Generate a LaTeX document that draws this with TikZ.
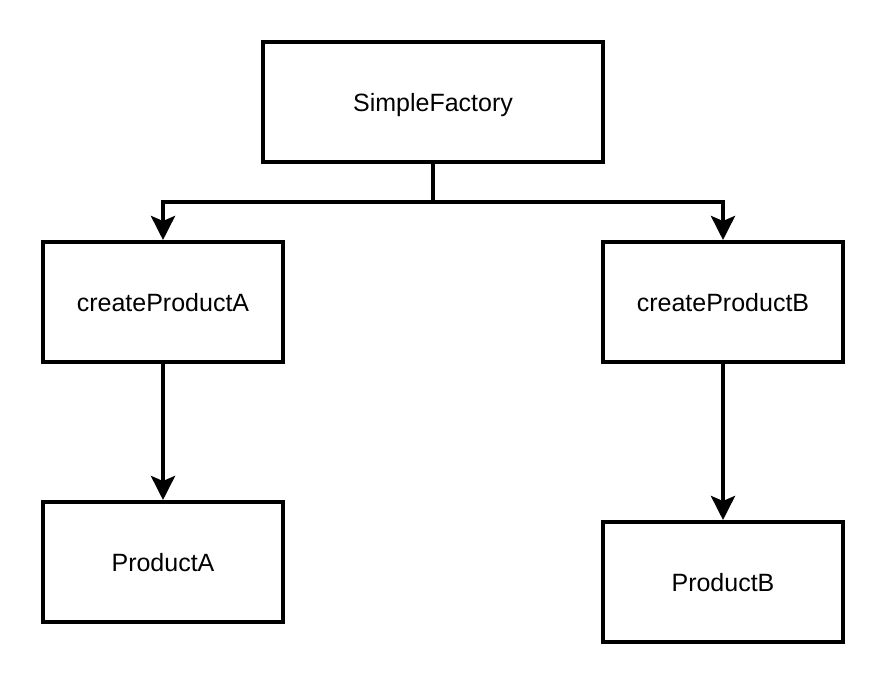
\documentclass[tikz,border=0pt]{standalone}
\usepackage{fontspec}
\setmainfont{Liberation Sans}
\usetikzlibrary{arrows.meta}
\begin{document}
\begin{tikzpicture}[x=1pt,y=-1pt,
  box/.style={draw=black, line width=4pt, rectangle, inner sep=0pt,
    text height=19pt, text depth=0pt,
    font=\fontsize{25}{30}\selectfont},
  sbox/.style={box, minimum width=240pt, minimum height=120pt},
  conn/.style={draw=black, line width=4pt,
    -{Stealth[length=24pt,width=24pt,inset=5pt]}}]
\useasboundingbox (0,0) rectangle (884,684);
\node[box, minimum width=340pt, minimum height=120pt] (sf) at (433,102) {SimpleFactory};
\node[sbox] (ca) at (163,302) {createProductA};
\node[sbox] (cb) at (723,302) {createProductB};
\node[sbox] (pa) at (163,562) {ProductA};
\node[sbox] (pb) at (723,582) {ProductB};
\coordinate (j) at (433,202);
\draw[conn] (sf.south) -- (j) -| (ca.north);
\draw[conn] (sf.south) -- (j) -| (cb.north);
\draw[conn] (ca.south) -- (pa.north);
\draw[conn] (cb.south) -- (pb.north);
\end{tikzpicture}
\end{document}
